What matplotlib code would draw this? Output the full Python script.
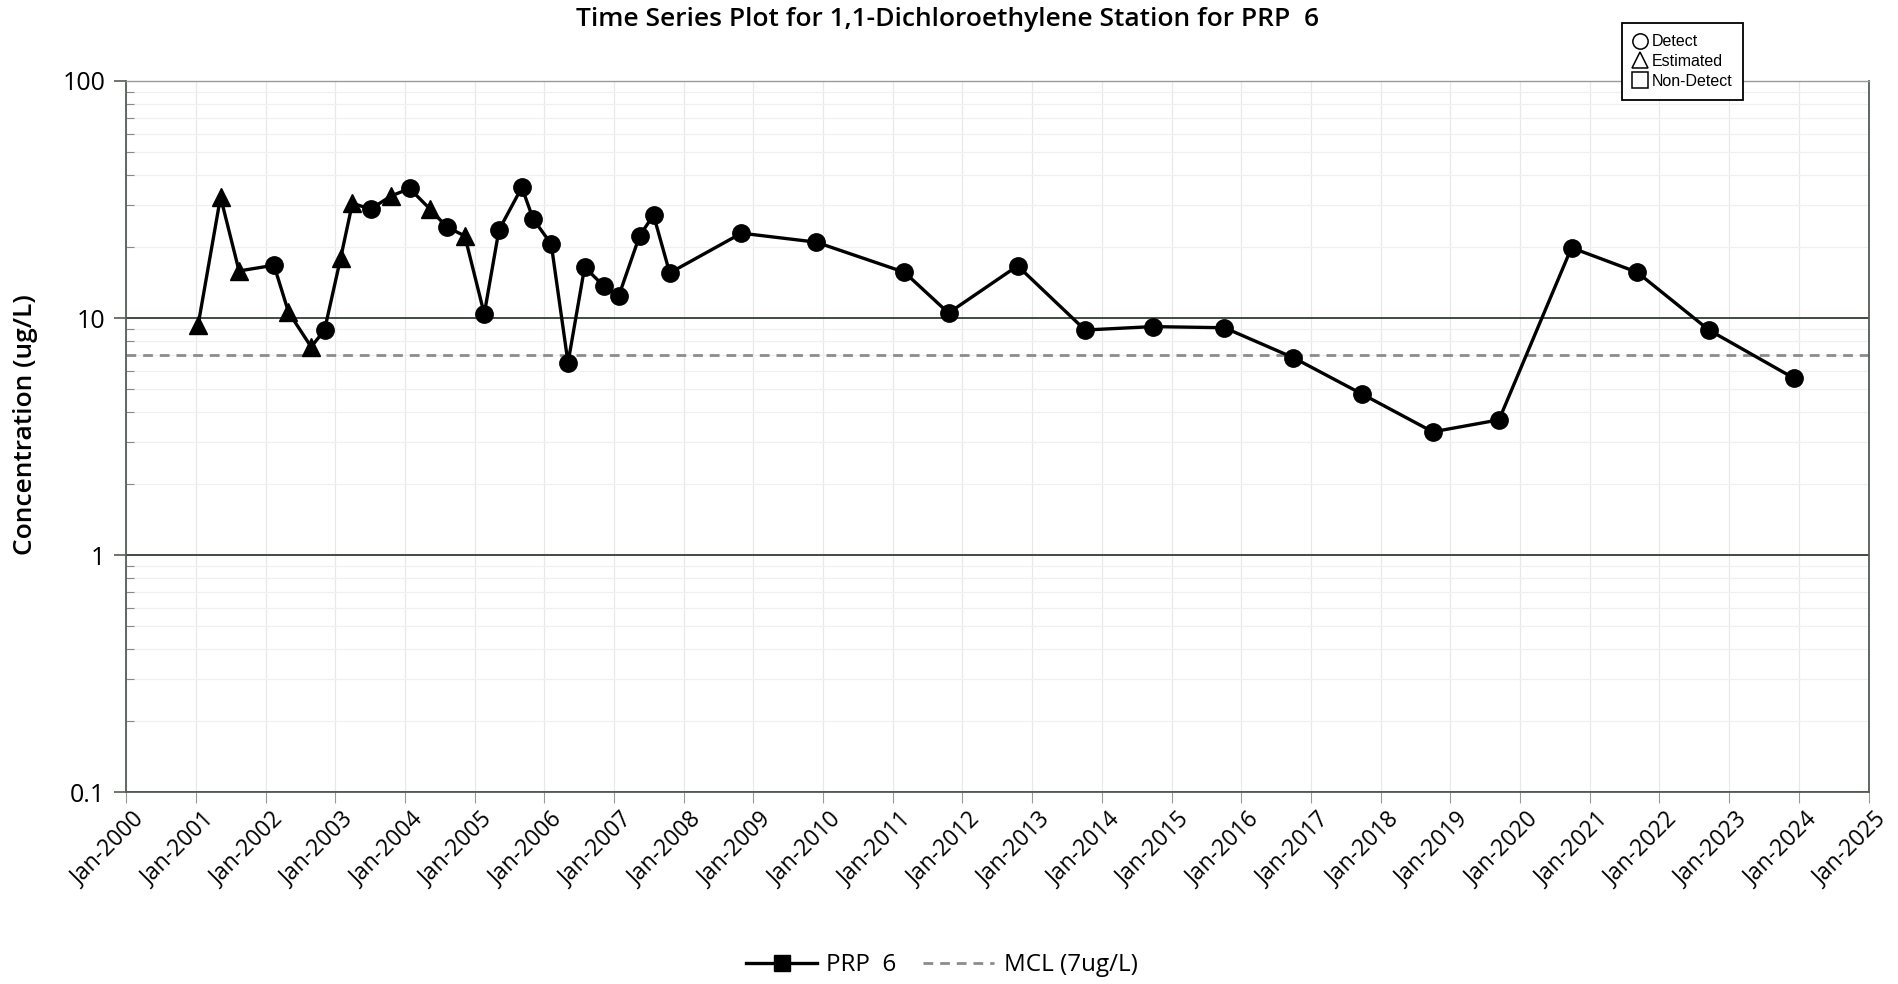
import pandas as pd
import matplotlib
matplotlib.use("Agg")
import matplotlib.pyplot as plt
import matplotlib.dates as mdates
import matplotlib.transforms as mtransforms
from matplotlib.lines import Line2D
from matplotlib.ticker import FixedLocator, LogLocator, NullFormatter, FuncFormatter


# ----------------------------
# Data
# ----------------------------

sample_dates = [
    "2001-01-12", "2001-05-10", "2001-08-15", "2002-02-14", "2002-05-01",
    "2002-08-28", "2002-11-06", "2003-01-30", "2003-04-01", "2003-07-05",
    "2003-10-20", "2004-01-26", "2004-05-12", "2004-08-08", "2004-11-10",
    "2005-02-20", "2005-05-08", "2005-09-05", "2005-11-03", "2006-02-06",
    "2006-05-05", "2006-07-31", "2006-11-10", "2007-01-26", "2007-05-15",
    "2007-07-27", "2007-10-20", "2008-10-30", "2009-11-25", "2011-03-03",
    "2011-10-20", "2012-10-16", "2013-10-05", "2014-09-24", "2015-10-05",
    "2016-10-01", "2017-09-27", "2018-10-01", "2019-09-13", "2020-09-27",
    "2021-09-06", "2022-09-17", "2023-12-09",
]

concentration = [
    9.3, 32.4, 15.8, 16.7, 10.6,
    7.55, 8.9, 18.0, 30.5, 28.8,
    32.7, 35.2, 28.8, 24.2, 22.2,
    10.4, 23.5, 35.6, 26.2, 20.5,
    6.47, 16.4, 13.6, 12.4, 22.2,
    27.2, 15.5, 22.8, 20.9, 15.6,
    10.5, 16.6, 8.9, 9.2, 9.1,
    6.8, 4.77, 3.31, 3.72, 19.8,
    15.6, 8.9, 5.56,
]

# D = detect, E = estimated
qualifier = [
    "E", "E", "E", "D", "E",
    "E", "D", "E", "E", "D",
    "E", "D", "E", "D", "E",
    "D", "D", "D", "D", "D",
    "D", "D", "D", "D", "D",
    "D", "D", "D", "D", "D",
    "D", "D", "D", "D", "D",
    "D", "D", "D", "D", "D",
    "D", "D", "D",
]

mcl_value = 7.0

y_ticks = [0.1, 1, 10, 100]

station = "PRP  6"


# ----------------------------
# Plot
# ----------------------------

def plot_time_series():

    data = pd.DataFrame({
        "Date": pd.to_datetime(sample_dates),
        "Value": concentration,
        "Flag": qualifier,
    })

    fig = plt.figure(figsize=(18.99, 9.84), dpi=100)
    ax = fig.add_axes([0.0664, 0.195, 0.9176, 0.7227])

    ax.set_yscale("log")
    ax.set_ylim(0.1, 100)
    ax.set_xlim(pd.Timestamp("2000-01-01"), pd.Timestamp("2025-01-01"))

    # grid
    ax.yaxis.set_major_locator(FixedLocator(y_ticks))
    ax.yaxis.set_major_formatter(FuncFormatter(lambda v, p: f"{v:g}"))
    ax.yaxis.set_minor_locator(LogLocator(base=10, subs=range(2, 10)))
    ax.yaxis.set_minor_formatter(NullFormatter())

    ax.xaxis.set_major_locator(mdates.YearLocator())
    ax.xaxis.set_major_formatter(mdates.DateFormatter("%b-%Y"))

    ax.grid(True, which="major", axis="y", color="#3f4b40", lw=1.4)
    ax.grid(True, which="minor", axis="y", color="#f0f0f0", lw=0.9)
    ax.grid(True, which="major", axis="x", color="#e8e8e8", lw=0.9)
    ax.set_axisbelow(True)

    # MCL line
    ax.axhline(
        mcl_value, color="#8c8c8c", lw=2,
        linestyle=(0, (3.5, 2.5)), zorder=2
    )

    # series
    ax.plot(data["Date"], data["Value"], color="black", lw=2.4, zorder=3)

    detect = data[data["Flag"] == "D"]
    estimated = data[data["Flag"] == "E"]

    ax.plot(
        detect["Date"], detect["Value"], "o", color="black",
        markersize=12.5, zorder=4
    )
    ax.plot(
        estimated["Date"], estimated["Value"], "^", color="black",
        markersize=13, zorder=4
    )

    # spines and ticks
    for side in ["left", "right", "bottom"]:
        ax.spines[side].set_color("#555c55")
        ax.spines[side].set_linewidth(1.3)
    ax.spines["top"].set_color("#9a9a9a")
    ax.spines["top"].set_linewidth(1.0)

    ax.tick_params(axis="y", which="major", direction="out", length=9,
                   width=1.2, color="#555c55", labelsize=18, pad=6)
    ax.tick_params(axis="y", which="minor", direction="in", length=6,
                   width=0.8, color="#888888")
    ax.tick_params(axis="x", which="major", direction="out", length=8,
                   width=0.8, color="#999999", labelsize=16.5, pad=3)

    shift = mtransforms.ScaledTranslation(6 / 100, 0, fig.dpi_scale_trans)

    for label in ax.get_xticklabels():
        label.set_rotation(45)
        label.set_ha("right")
        label.set_va("top")
        label.set_rotation_mode("anchor")
        label.set_transform(label.get_transform() + shift)

    for label in ax.get_xticklabels() + ax.get_yticklabels():
        label.set_family(["Open Sans", "DejaVu Sans"])

    # text
    fig.text(
        0.499, 0.980,
        f"Time Series Plot for 1,1-Dichloroethylene Station for {station}",
        ha="center", va="center", fontsize=19, fontweight="semibold",
        family=["Open Sans", "DejaVu Sans"]
    )

    fig.text(
        0.0135, 0.568, "Concentration (ug/L)",
        rotation=90, ha="center", va="center", fontsize=19,
        fontweight="semibold", family=["Open Sans", "DejaVu Sans"]
    )

    # qualifier key
    key_handles = [
        Line2D([], [], marker="o", ls="none", mfc="white", mec="black",
               markersize=11, mew=1.1),
        Line2D([], [], marker="^", ls="none", mfc="white", mec="black",
               markersize=12, mew=1.1),
        Line2D([], [], marker="s", ls="none", mfc="white", mec="black",
               markersize=11, mew=1.1),
    ]
    key = fig.legend(
        key_handles, ["Detect", "Estimated", "Non-Detect"],
        loc="upper left", bbox_to_anchor=(0.8541, 0.9766),
        bbox_transform=fig.transFigure,
        handlelength=0.9, handletextpad=0.25, labelspacing=0.3,
        borderpad=0.7, borderaxespad=0, fancybox=False,
        edgecolor="black", framealpha=1,
        prop={"family": ["Liberation Sans Narrow", "Liberation Sans"],
              "size": 11.5}
    )
    key.get_frame().set_linewidth(1.3)

    # bottom legend
    series_handles = [
        Line2D([], [], color="black", lw=2.4, marker="s", markersize=11),
        Line2D([], [], color="#8c8c8c", lw=2, linestyle=(0, (3.5, 2.5))),
    ]
    fig.legend(
        series_handles, [station, "MCL (7ug/L)"],
        loc="center", bbox_to_anchor=(0.496, 0.019),
        bbox_transform=fig.transFigure, ncol=2, frameon=False,
        handlelength=2.9, handletextpad=0.4, columnspacing=1.1,
        prop={"family": "Open Sans", "size": 17.5}
    )

    fig.savefig("out.png", dpi=100)
    plt.close(fig)


def main():

    plot_time_series()


if __name__ == "__main__":
    main()
